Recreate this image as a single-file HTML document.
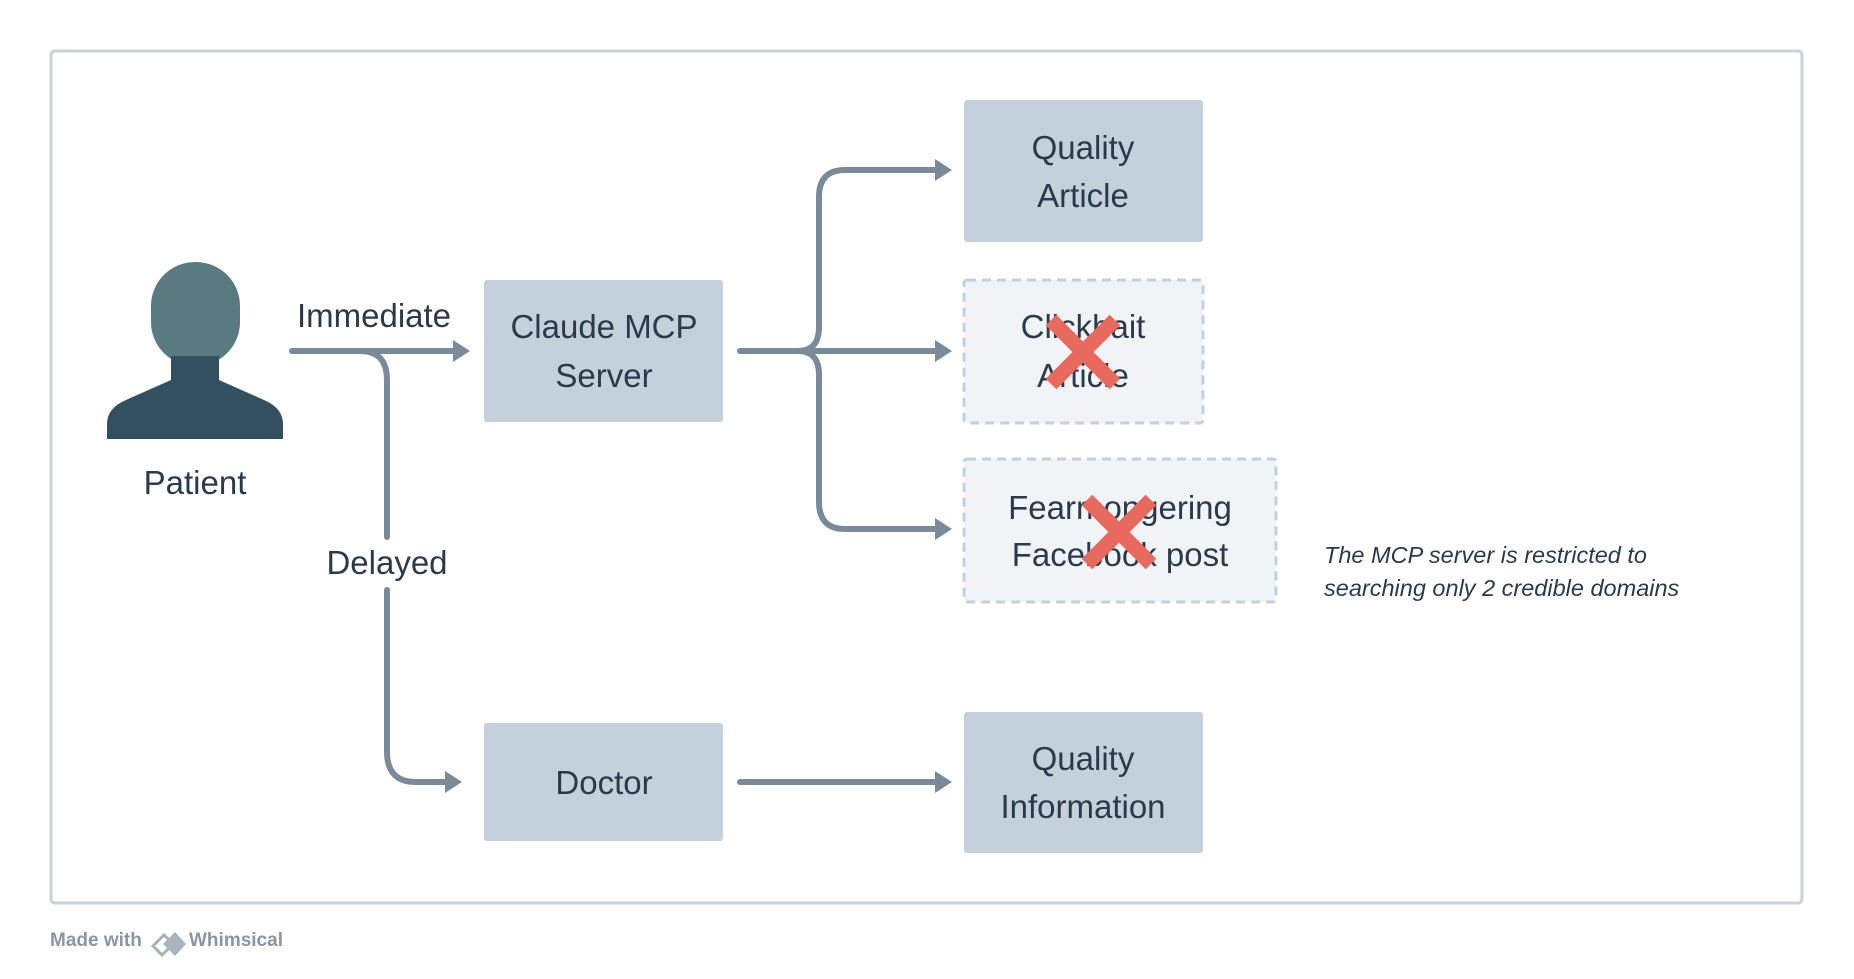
<!DOCTYPE html>
<html><head><meta charset="utf-8"><style>
html,body{margin:0;padding:0;background:#fff;}
svg{display:block;}
text{font-family:"Liberation Sans",sans-serif;fill:#2b3a4a;}
</style></head><body>
<svg width="1854" height="979" viewBox="0 0 1854 979" xmlns="http://www.w3.org/2000/svg">
<rect x="51" y="51" width="1751" height="852" rx="4" fill="#fff" stroke="#c7d2dc" stroke-width="3"/>
<!-- person -->
<rect x="151" y="262" width="89" height="104" rx="44" fill="#5a7a82"/>
<rect x="171" y="356" width="48" height="32" fill="#335060"/>
<path d="M171 380 L126 400 Q107 408 107 424 L107 439 L283 439 L283 424 Q283 408 264 400 L219 380 Z" fill="#335060"/>
<text x="195" y="494" font-size="33" text-anchor="middle">Patient</text>
<!-- connectors -->
<g fill="none" stroke="#7a8a99" stroke-width="6" stroke-linecap="round">
<path d="M292 351 L455 351"/>
<path d="M360 351 Q387 351 387 380 L387 537"/>
<path d="M387 590 L387 752 Q387 782 416 782 L448 782"/>
<path d="M740 351 L937 351"/>
<path d="M798 351 Q819 351 819 327 L819 197 Q819 170 845 170 L937 170"/>
<path d="M798 351 Q819 351 819 375 L819 502 Q819 529 845 529 L937 529"/>
<path d="M740 782 L937 782"/>
</g>
<g fill="#7a8a99">
<path d="M453 340 L470 351 L453 362 Z"/>
<path d="M445 771 L462 782 L445 793 Z"/>
<path d="M935 159 L952 170 L935 181 Z"/>
<path d="M935 340 L952 351 L935 362 Z"/>
<path d="M935 518 L952 529 L935 540 Z"/>
<path d="M935 771 L952 782 L935 793 Z"/>
</g>
<text x="374" y="327" font-size="33" text-anchor="middle">Immediate</text>
<text x="387" y="574" font-size="33" text-anchor="middle">Delayed</text>
<!-- boxes -->
<rect x="484" y="280" width="239" height="142" rx="3" fill="#c4d0da"/>
<text x="604" y="338" font-size="33" text-anchor="middle">Claude MCP</text>
<text x="604" y="387" font-size="33" text-anchor="middle">Server</text>
<rect x="484" y="723" width="239" height="118" rx="3" fill="#c4d0da"/>
<text x="604" y="794" font-size="33" text-anchor="middle">Doctor</text>
<rect x="964" y="100" width="239" height="142" rx="3" fill="#c4d0da"/>
<text x="1083" y="159" font-size="33" text-anchor="middle">Quality</text>
<text x="1083" y="207" font-size="33" text-anchor="middle">Article</text>
<rect x="964" y="280" width="239" height="143" rx="3" fill="#f0f4f7" stroke="#c4d0da" stroke-width="3" stroke-dasharray="9 6"/>
<text x="1083" y="338" font-size="33" text-anchor="middle">Clickbait</text>
<text x="1083" y="387" font-size="33" text-anchor="middle">Article</text>
<rect x="964" y="459" width="312" height="143" rx="3" fill="#f0f4f7" stroke="#c4d0da" stroke-width="3" stroke-dasharray="9 6"/>
<text x="1120" y="519" font-size="33" text-anchor="middle">Fearmongering</text>
<text x="1120" y="566" font-size="33" text-anchor="middle">Facebook post</text>
<rect x="964" y="712" width="239" height="141" rx="3" fill="#c4d0da"/>
<text x="1083" y="770" font-size="33" text-anchor="middle">Quality</text>
<text x="1083" y="818" font-size="33" text-anchor="middle">Information</text>
<!-- X marks -->
<g stroke="#e8695e" stroke-width="15">
<path d="M1051 320 L1115 384 M1115 320 L1051 384"/>
<path d="M1087 500 L1151 564 M1151 500 L1087 564"/>
</g>
<text x="1324" y="563" font-size="23.5" font-style="italic">The MCP server is restricted to</text>
<text x="1324" y="596" font-size="23.5" font-style="italic">searching only 2 credible domains</text>
<!-- footer -->
<text x="50" y="946" font-size="19" font-weight="bold" style="fill:#8a96a3">Made with</text>
<path d="M153 946 L164 935 L173 944 L162 955 Z" fill="none" stroke="#a8b3be" stroke-width="3"/>
<path d="M163 944 L175 932 L186 944 L175 956 Z" fill="#a8b3be"/>
<text x="189" y="946" font-size="19" font-weight="bold" style="fill:#8a96a3">Whimsical</text>
</svg>
</body></html>
